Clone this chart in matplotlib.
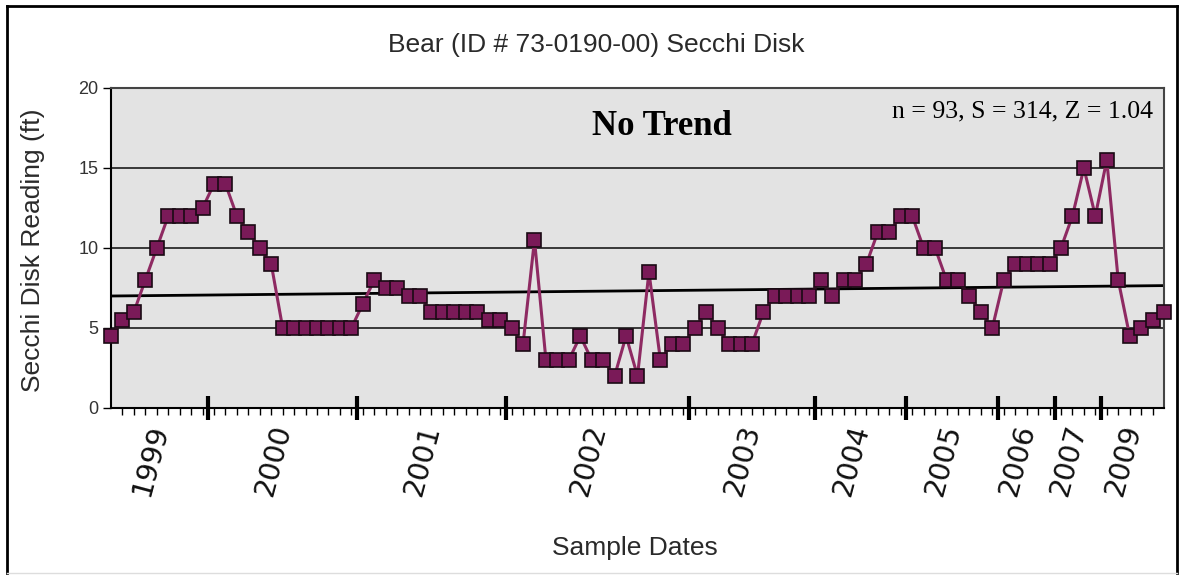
import numpy as np
import matplotlib
matplotlib.use("Agg")
import matplotlib.pyplot as plt
from matplotlib.lines import Line2D

# Secchi disk readings (ft), one per sample, in date order
secchi = [4.5, 5.5, 6, 8, 10, 12, 12, 12, 12.5,                       # 1999
          14, 14, 12, 11, 10, 9, 5, 5, 5, 5, 5, 5, 5,                  # 2000
          6.5, 8, 7.5, 7.5, 7, 7, 6, 6, 6, 6, 6, 5.5, 5.5,             # 2001
          5, 4, 10.5, 3, 3, 3, 4.5, 3, 3, 2, 4.5, 2, 8.5, 3, 4, 4,     # 2002
          5, 6, 5, 4, 4, 4, 6, 7, 7, 7, 7,                             # 2003
          8, 7, 8, 8, 9, 11, 11, 12,                                   # 2004
          12, 10, 10, 8, 8, 7, 6, 5,                                   # 2005
          8, 9, 9, 9, 9,                                               # 2006
          10, 12, 15, 12,                                              # 2007
          15.5, 8, 4.5, 5, 5.5, 6]                                     # 2009
years = ["1999", "2000", "2001", "2002", "2003", "2004", "2005", "2006", "2007", "2009"]
samples_per_year = [9, 13, 13, 16, 11, 8, 8, 5, 4, 6]
trend_ends = [7.0, 7.65]
stats = "n = 93, S = 314, Z = 1.04"

plt.rcParams['font.family'] = ['Liberation Sans', 'DejaVu Sans']

fig = plt.figure(figsize=(11.83, 5.76), dpi=100)
ax = fig.add_axes([111/1183, 1 - 408/576, 1053/1183, 320/576])
ax.set_facecolor("#e3e3e3")

x = np.arange(len(secchi))
ax.set_xlim(0, len(secchi) - 1)
ax.set_ylim(0, 20)

# gridlines
for g in [5, 10, 15]:
    ax.axhline(g, color="#2a2a2a", lw=1.3, zorder=1)

# trend line
ax.plot([0, len(secchi) - 1], trend_ends, color="black", lw=2.0, zorder=2)

# data
ax.plot(x, secchi, color="#8e2a62", lw=2.2, marker="s", markersize=9.5,
        markerfacecolor="#7a1a58", markeredgecolor="#1a0a14", markeredgewidth=1.2,
        clip_on=False, zorder=3)

# axes frame
for s in ["left", "bottom"]:
    ax.spines[s].set_color("black")
    ax.spines[s].set_linewidth(1.5)
for s in ["top", "right"]:
    ax.spines[s].set_color("#444444")
    ax.spines[s].set_linewidth(1.5)

ax.set_yticks([0, 5, 10, 15, 20])
ax.tick_params(axis="y", length=6, width=1, pad=3, labelsize=13, colors="black")
for lbl in ax.get_yticklabels():
    lbl.set_color("#333333")

# year boundaries as major ticks, every sample as a minor tick
bounds = np.cumsum(samples_per_year)[:-1] - 0.5
ax.set_xticks(bounds)
ax.set_xticklabels([])
ax.tick_params(axis="x", which="major", direction="inout", length=17, width=3)
ax.set_xticks(x[1:-1], minor=True)
ax.tick_params(axis="x", which="minor", direction="out", length=5, width=1)

# year labels centred under each group
edges = np.concatenate([[0], bounds, [len(secchi) - 1]])
for yr, a, b in zip(years, edges[:-1], edges[1:]):
    ax.text((a + b) / 2 - 0.8, -0.04, yr, transform=ax.get_xaxis_transform(),
            rotation=75, ha="center", va="top", fontsize=20.5, family="DejaVu Sans",
            color="#111111")

ax.text(0.523, 0.853, "No Trend", transform=ax.transAxes, ha="center", va="baseline",
        fontsize=25, fontweight="bold", family="Liberation Serif")
ax.text(0.9896, 0.909, stats, transform=ax.transAxes, ha="right", va="baseline",
        fontsize=18.5, family="Liberation Serif")

fig.text(596/1183, 1 - 52/576, "Bear (ID # 73-0190-00) Secchi Disk",
         ha="center", va="baseline", fontsize=19, color="#2a2a2a")
fig.text(635/1183, 1 - 555/576, "Sample Dates", ha="center", va="baseline",
         fontsize=19, color="#2a2a2a")
fig.text(33/1183, 1 - 250/576, "Secchi Disk Reading (ft)", rotation=90,
         ha="center", va="center", fontsize=19, color="#2a2a2a")

# outer chart border
W, H = 1183, 576
fig.add_artist(Line2D([7/W, 7/W], [1 - 573/H, 1 - 6/H], color="black", lw=2))
fig.add_artist(Line2D([7/W, 1177/W], [1 - 6/H, 1 - 6/H], color="black", lw=2))
fig.add_artist(Line2D([1177/W, 1177/W], [1 - 573/H, 1 - 6/H], color="black", lw=2))
fig.add_artist(Line2D([7/W, 1177/W], [1 - 573/H, 1 - 573/H], color="#dddddd", lw=1))

fig.savefig("out.png", dpi=100)
